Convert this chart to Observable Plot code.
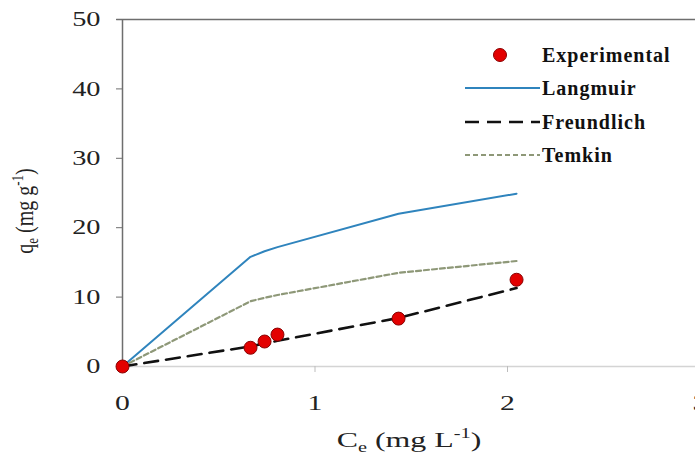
<!DOCTYPE html>
<html>
<head>
<meta charset="utf-8">
<script src="https://cdn.jsdelivr.net/npm/d3@7"></script>
<script src="https://cdn.jsdelivr.net/npm/@observablehq/plot@0.6"></script>
<style>
  html, body { margin: 0; padding: 0; background: #fff; }
  #wrap { position: relative; width: 695px; height: 460px; overflow: hidden; font-family: "Liberation Serif", "Times New Roman", serif; }
  .leg { position: absolute; left: 0; top: 0; width: 695px; height: 460px; pointer-events: none; }
  .leg text { font-family: "Liberation Serif", serif; font-size: 20px; font-weight: bold; fill: #111; letter-spacing: 1px; }
</style>
</head>
<body>
<div id="wrap"></div>
<script>
// Data
const ce = [0, 0.665, 0.738, 0.805, 1.434, 2.047];
const experimental = [0, 2.7, 3.6, 4.6, 6.9, 12.5];
const langmuir = [0, 15.8, 16.6, 17.2, 22.0, 24.9];
const freundlich = [0, 2.9, 3.3, 3.7, 7.0, 11.3];
const temkin = [0, 9.4, 9.9, 10.3, 13.5, 15.2];
const xTicks = [0, 1, 2, 3];
const yTicks = [0, 10, 20, 30, 40, 50];
const seriesNames = ["Experimental", "Langmuir", "Freundlich", "Temkin"];

const rows = (ys) => ce.map((c, i) => ({x: c, y: ys[i]}));

const svg = Plot.plot({
  width: 695,
  height: 460,
  marginLeft: 122,
  marginTop: 19,
  marginBottom: 94,
  marginRight: -4.5,
  style: {fontFamily: "Liberation Serif, serif", fontSize: "21px", color: "#222", background: "#fff"},
  x: {domain: [0, 3]},
  y: {domain: [0, 50]},
  marks: [
    Plot.ruleY([0], {stroke: "#d4d4d4", strokeWidth: 1.5, x1: 0, x2: 3}),
    Plot.ruleY([50], {stroke: "#6e6e6e", strokeWidth: 1.5, x1: -0.03, x2: 3}),
    Plot.ruleX([0], {stroke: "#6e6e6e", strokeWidth: 1.5}),
    Plot.axisY({ticks: yTicks, tickFormat: "d", tickSize: 6, tickPadding: 16, stroke: "#6e6e6e", label: null, fill: "#222", fontSize: 21}),
    Plot.axisX({ticks: xTicks, tickFormat: "d", tickSize: 6, tickPadding: 22, stroke: "#bdbdbd", label: null, fill: "#222", fontSize: 22}),
    Plot.line(rows(langmuir), {x: "x", y: "y", stroke: "#2f84bd", strokeWidth: 2}),
    Plot.line(rows(temkin), {x: "x", y: "y", stroke: "#8e9878", strokeWidth: 2.2, strokeDasharray: "5,3"}),
    Plot.line(rows(freundlich), {x: "x", y: "y", stroke: "#111", strokeWidth: 2.6, strokeDasharray: "14,8"}),
    Plot.dot(rows(experimental), {x: "x", y: "y", r: 6.5, fill: "#e30000", stroke: "#8a0000", strokeWidth: 1})
  ]
});

document.getElementById("wrap").appendChild(svg);

const s = d3.select(svg);
// widen tick labels (reference glyphs are stretched horizontally); scale about each label's anchor
function widen(sel, k) {
  sel.each(function () {
    const t = this.getAttribute("transform") || "";
    const dx = parseFloat(this.getAttribute("dx") || "0");
    if (dx) this.setAttribute("dx", dx / k);
    this.setAttribute("transform", t + ` scale(${k},1)`);
  });
}
widen(s.selectAll('g[aria-label="y-axis tick label"] text'), 1.35);
widen(s.selectAll('g[aria-label="x-axis tick label"] text'), 1.35);

// Axis titles with sub/superscripts
const xl = s.append("text")
  .attr("transform", "translate(409,447) scale(1.45,1)")
  .attr("text-anchor", "middle")
  .style("font-family", "Liberation Serif, serif").style("font-size", "22px").attr("fill", "#222");
xl.append("tspan").text("C");
xl.append("tspan").attr("dy", 5).style("font-size", "14px").text("e");
xl.append("tspan").attr("dy", -5).text(" (mg L");
xl.append("tspan").attr("dy", -9).style("font-size", "14px").text("-1");
xl.append("tspan").attr("dy", 9).text(")");

const yl = s.append("text")
  .attr("transform", "translate(33,211) rotate(-90) scale(1,1.25)")
  .attr("text-anchor", "middle")
  .style("font-family", "Liberation Serif, serif").style("font-size", "20px").attr("fill", "#222");
yl.append("tspan").text("q");
yl.append("tspan").attr("dy", 4).style("font-size", "13px").text("e");
yl.append("tspan").attr("dy", -4).text(" (mg g");
yl.append("tspan").attr("dy", -8).style("font-size", "13px").text("-1");
yl.append("tspan").attr("dy", 8).text(")");

// Legend overlay
const leg = d3.select("#wrap").append("svg").attr("class", "leg").attr("width", 695).attr("height", 460);
const legY = [55, 88, 122, 155];
const styles = [
  {type: "dot"},
  {type: "line", stroke: "#2f84bd", w: 2, dash: null},
  {type: "line", stroke: "#111", w: 2.6, dash: "14,8"},
  {type: "line", stroke: "#8e9878", w: 2.2, dash: "5,3"}
];
seriesNames.forEach((name, i) => {
  const g = leg.append("g");
  const st = styles[i];
  if (st.type === "dot") {
    g.append("circle").attr("cx", 500).attr("cy", legY[i]).attr("r", 6.5)
      .attr("fill", "#e30000").attr("stroke", "#8a0000");
  } else {
    g.append("line").attr("x1", 465).attr("x2", 540).attr("y1", legY[i]).attr("y2", legY[i])
      .attr("stroke", st.stroke).attr("stroke-width", st.w).attr("stroke-dasharray", st.dash);
  }
  g.append("text").attr("x", 542).attr("y", legY[i]).attr("dy", "0.35em").text(name);
});
</script>
</body>
</html>
